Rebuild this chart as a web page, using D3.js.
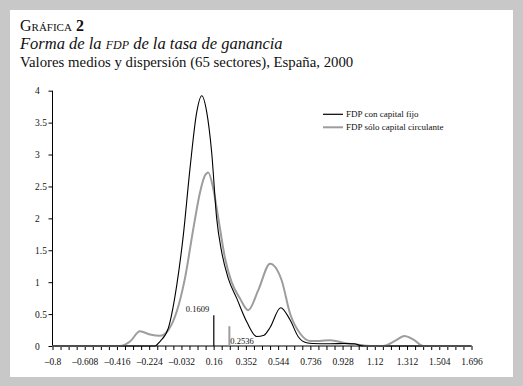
<!DOCTYPE html>
<html>
<head>
<meta charset="utf-8">
<script src="https://cdn.jsdelivr.net/npm/d3@7"></script>
<style>
  body { margin: 0; background: #c8c8c8; }
  svg { display: block; }
  text { font-family: "Liberation Serif", "DejaVu Serif", serif; fill: #111; }
</style>
</head>
<body>
<svg id="chart" width="523" height="386"></svg>
<script>
// density curve, con capital fijo: [x, y]
const fijoX = [-0.8, -0.19, -0.16, -0.11, -0.06, -0.021, 0.019, 0.059, 0.089, 0.119, 0.148, 0.178, 0.208, 0.247, 0.297, 0.357, 0.416, 0.46, 0.496, 0.559, 0.615, 0.664, 0.714, 0.75, 0.85, 0.95, 1.0, 1.03, 1.06, 1.696];
const fijoY = [0, 0, 0.07, 0.28, 0.95, 1.73, 2.78, 3.66, 3.92, 3.66, 3.04, 2.0, 1.47, 1.06, 0.75, 0.38, 0.15, 0.17, 0.29, 0.60, 0.41, 0.145, 0.05, 0.04, 0.035, 0.04, 0.035, 0.01, 0, 0];

// density curve, sólo capital circulante
const circX = [-0.8, -0.398, -0.338, -0.279, -0.219, -0.16, -0.11, -0.06, -0.011, 0.039, 0.079, 0.108, 0.128, 0.158, 0.188, 0.228, 0.267, 0.317, 0.366, 0.426, 0.496, 0.565, 0.615, 0.674, 0.734, 0.79, 0.853, 0.953, 1.05, 1.12, 1.17, 1.24, 1.296, 1.35, 1.41, 1.696];
const circY = [0, 0, 0.07, 0.23, 0.18, 0.16, 0.25, 0.54, 1.06, 1.84, 2.41, 2.67, 2.72, 2.46, 2.0, 1.37, 1.0, 0.745, 0.56, 0.875, 1.29, 1.03, 0.51, 0.2, 0.08, 0.08, 0.09, 0.04, 0.01, 0, 0, 0.08, 0.155, 0.1, 0, 0];

// medias
const meanX = [0.1609, 0.2536];
const meanH = [0.48, 0.31];
const meanLabels = ["0.1609", "0.2536"];

const xTickLabels = ["\u20130.8", "\u20130.608", "\u20130.416", "\u20130.224", "\u20130.032", "0.16", "0.352", "0.544", "0.736", "0.928", "1.12", "1.312", "1.504", "1.696"];
const yTickLabels = ["0", "0.5", "1", "1.5", "2", "2.5", "3", "3.5", "4"];
const legendLabels = ["FDP con capital fijo", "FDP sólo capital circulante"];

const svg = d3.select("#chart");

svg.append("rect").attr("x", 10).attr("y", 10).attr("width", 503).attr("height", 367).attr("fill", "#fff");

// titles
const t1 = svg.append("text").attr("x", 20).attr("y", 31).style("font-size", "16px");
t1.append("tspan").style("font-variant", "small-caps").text("Gráfica ");
t1.append("tspan").style("font-weight", "bold").text("2");

const t2 = svg.append("text").attr("x", 20).attr("y", 49).style("font-size", "16.5px").style("font-style", "italic");
t2.append("tspan").text("Forma de la ");
t2.append("tspan").style("font-variant", "small-caps").text("fdp");
t2.append("tspan").text(" de la tasa de ganancia");

svg.append("text").attr("x", 20).attr("y", 67).style("font-size", "14.8px")
    .text("Valores medios y dispersión (65 sectores), España, 2000");

const x = d3.scaleLinear().domain([-0.8, 1.696]).range([52.5, 471.5]);
const y = d3.scaleLinear().domain([0, 4]).range([346, 90.7]);

// x axis with minor ticks every 0.048
const xAxis = d3.axisBottom(x)
    .tickValues(d3.range(53).map(i => -0.8 + i * 0.048))
    .tickSize(4)
    .tickFormat((d, i) => i % 4 === 0 ? xTickLabels[i / 4] : "");
const gx = svg.append("g").attr("transform", `translate(0,${y(0)})`).call(xAxis);
gx.select(".domain").attr("d", `M${x(-0.8)},0H${x(1.696)}`).attr("stroke", "#000");
gx.selectAll(".tick line").attr("stroke", "#000");
gx.selectAll(".tick text").attr("y", 12).style("font-size", "9.5px")
    .style("font-family", "Liberation Serif, serif").attr("fill", "#222");

// y axis
const yAxis = d3.axisLeft(y)
    .tickValues(d3.range(9).map(i => i * 0.5))
    .tickSize(4)
    .tickFormat((d, i) => yTickLabels[i]);
const gy = svg.append("g").attr("transform", `translate(${x(-0.8)},0)`).call(yAxis);
gy.select(".domain").attr("d", `M0,${y(0)}V${y(4)}`).attr("stroke", "#000");
gy.selectAll(".tick line").attr("stroke", "#000");
gy.selectAll(".tick text").attr("text-anchor", "start").attr("x", -17.5).style("font-size", "9.5px")
    .style("font-family", "Liberation Serif, serif").attr("fill", "#222");

const line = d3.line()
    .x(d => x(d[0]))
    .y(d => y(d[1]))
    .curve(d3.curveMonotoneX);

svg.append("path")
    .datum(circX.map((v, i) => [v, circY[i]]))
    .attr("d", line)
    .attr("fill", "none")
    .attr("stroke", "#9d9d9d")
    .attr("stroke-width", 2);

svg.append("path")
    .datum(fijoX.map((v, i) => [v, fijoY[i]]))
    .attr("d", line)
    .attr("fill", "none")
    .attr("stroke", "#000")
    .attr("stroke-width", 1.1);

// mean markers
const meanColors = ["#000", "#9d9d9d"];
const meanWidth = [1.2, 2];
meanX.forEach((m, i) => {
    svg.append("line")
        .attr("x1", x(m)).attr("x2", x(m))
        .attr("y1", y(0)).attr("y2", y(meanH[i]))
        .attr("stroke", meanColors[i])
        .attr("stroke-width", meanWidth[i]);
});
svg.append("text").attr("x", x(meanX[0]) - 28).attr("y", y(meanH[0]) - 3)
    .style("font-size", "8.5px").text(meanLabels[0]);
svg.append("text").attr("x", x(meanX[1]) + 1).attr("y", y(0) - 2)
    .style("font-size", "8.5px").text(meanLabels[1]);

// legend
legendLabels.forEach((lab, i) => {
    const ly = 114.3 + i * 13;
    svg.append("line")
        .attr("x1", 323).attr("x2", 343)
        .attr("y1", ly).attr("y2", ly)
        .attr("stroke", meanColors[i])
        .attr("stroke-width", i === 0 ? 1.2 : 2);
    svg.append("text").attr("x", 346).attr("y", ly + 3)
        .style("font-size", "9px").text(lab);
});
</script>
</body>
</html>
